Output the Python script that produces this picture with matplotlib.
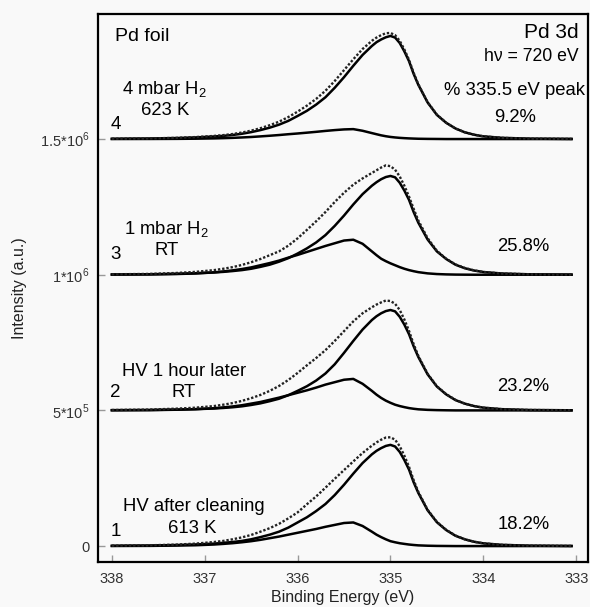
import matplotlib
matplotlib.use("Agg")
import matplotlib.pyplot as plt
import numpy as np

plt.rcParams['font.family'] = ['Liberation Sans', 'DejaVu Sans']
plt.rcParams['mathtext.fontset'] = 'custom'
plt.rcParams['mathtext.rm'] = 'Liberation Sans'

# binding energy grid (eV)
be = [338.0, 337.6, 337.3, 337.1, 336.9, 336.8, 336.7, 336.6, 336.5, 336.4, 336.3, 336.2, 336.1, 336.0,
      335.9, 335.8, 335.7, 335.6, 335.5, 335.4, 335.3, 335.2, 335.15, 335.1, 335.05, 335.0, 334.95, 334.9,
      334.85, 334.8, 334.75, 334.7, 334.6, 334.5, 334.4, 334.3, 334.2, 334.1, 334.0, 333.8, 333.5, 333.05]

# intensities in units of 1e3 counts, above each spectrum's baseline
# 1: HV after cleaning 613 K
main1 = [1, 2, 4, 6, 9, 12, 15, 19, 25, 33, 42, 53, 68, 87,
         106, 129, 155, 188, 226, 267, 306, 338, 351, 361, 369, 373, 367, 347,
         317, 282, 235, 196, 132, 88, 59, 38, 25, 16, 10, 4.5, 1.5, 0.4]
small1 = [0.3, 0.7, 1.8, 3, 5.7, 8, 10.6, 14, 18, 23, 29, 35, 42, 49,
          56, 63, 71, 78, 85, 87, 74, 53, 42, 33, 25, 18, 14, 10.5,
          8, 5.7, 4, 2.6, 1.3, 0.6, 0.3, 0, 0, 0, 0, 0, 0, 0]
data1 = [1.5, 2.8, 5.5, 9, 15, 19, 25, 32, 41, 53, 66, 82, 102, 124,
         154, 183, 215, 248, 280, 312, 343, 370, 382, 392, 400, 401, 392, 368,
         333, 292, 243, 200, 134, 89, 60, 39, 25, 16, 10, 4.5, 1.5, 0.5]
# 2: HV 1 hour later RT
main2 = [1, 1.5, 3, 4.5, 7, 9, 11.5, 15, 20, 26, 34, 43, 56, 72,
         89, 110, 136, 170, 212, 256, 298, 333, 347, 358, 366, 370, 365, 345,
         316, 281, 236, 197, 133, 88, 59, 38, 25, 16, 10, 4.5, 1.5, 0.4]
small2 = [0.4, 1, 2.5, 4.5, 8, 11, 14.5, 19, 25, 31, 39, 47, 56, 65,
          74, 84, 95, 104, 113, 116, 98, 72, 58, 46, 36, 28, 21, 16,
          12, 8.5, 6, 4, 2, 1, 0.4, 0, 0, 0, 0, 0, 0, 0]
data2 = [1.5, 3, 6.5, 10, 16, 21, 27, 35, 45, 57, 72, 90, 112, 138,
         166, 193, 222, 256, 292, 328, 358, 380, 390, 398, 405, 403, 393, 370,
         335, 293, 244, 201, 135, 89, 60, 39, 25, 16, 10, 4.5, 1.5, 0.5]
# 3: 1 mbar H2 RT
main3 = [1, 1.8, 3.5, 5.5, 8.5, 10.5, 13.5, 17, 22, 29, 37, 48, 61, 78,
         97, 119, 146, 180, 218, 259, 297, 328, 341, 352, 360, 364, 359, 339,
         310, 276, 231, 192, 130, 86, 58, 37, 24, 15.5, 10, 4.5, 1.5, 0.4]
small3 = [0.4, 1, 2.6, 4.6, 8.5, 12, 16, 21, 27, 35, 43, 52, 63, 73,
          84, 95, 106, 116, 126, 129, 114, 86, 72, 59, 50, 42, 35, 28,
          22, 17, 13, 9.5, 5, 2.5, 1.2, 0.5, 0.2, 0, 0, 0, 0, 0]
data3 = [1.5, 3, 6.5, 10.5, 17, 22, 28, 36, 46, 58, 72, 86, 107, 134,
         165, 197, 231, 268, 302, 332, 355, 375, 385, 395, 403, 400, 387, 362,
         328, 288, 243, 200, 135, 88, 59, 38, 25, 16, 10, 4.5, 1.5, 0.5]
# 4: 4 mbar H2 623 K
main4 = [1, 2, 3.8, 6, 9.5, 11.8, 15, 19.5, 25.5, 33, 42, 53, 67, 85,
         104, 127, 154, 189, 228, 270, 310, 343, 357, 367, 375, 380, 374, 354,
         323, 287, 240, 200, 135, 89, 60, 39, 25, 16, 10, 4.5, 1.5, 0.4]
small4 = [0.1, 0.3, 0.7, 1.3, 2.4, 3.3, 4.4, 5.9, 7.6, 9.8, 12.2, 14.8, 17.8, 20.5,
          23.5, 26.6, 30, 33, 35.5, 36.6, 30.5, 22, 17.8, 13.7, 10.4, 7.8, 5.9, 4.4,
          3.3, 2.4, 1.7, 1.1, 0.6, 0.3, 0, 0, 0, 0, 0, 0, 0, 0]
data4 = [1.2, 2.3, 4.5, 7.3, 11.5, 14.5, 18.5, 24, 31, 40, 51, 64, 81, 101,
         123, 148, 178, 214, 254, 294, 332, 362, 374, 383, 390, 391, 383, 362,
         330, 292, 244, 202, 136, 90, 60, 39, 25, 16, 10, 4.5, 1.5, 0.5]

offsets = [0, 5e5, 1e6, 1.5e6]
mains = [main1, main2, main3, main4]
smalls = [small1, small2, small3, small4]
datas = [data1, data2, data3, data4]

numbers = ['1', '2', '3', '4']
cond_top = ['HV after cleaning', 'HV 1 hour later', r'1 mbar H$_\mathregular{2}$', r'4 mbar H$_\mathregular{2}$']
cond_bot = ['613 K', 'RT', 'RT', '623 K']
percents = ['18.2%', '23.2%', '25.8%', '9.2%']

yticks = [0, 5e5, 1e6, 1.5e6]
yticklabels = ['0', r'5*10$^\mathregular{5}$', r'1*10$^\mathregular{6}$', r'1.5*10$^\mathregular{6}$']
xticks = [338, 337, 336, 335, 334, 333]

fig = plt.figure(figsize=(5.9, 6.07), dpi=100, facecolor='#f9f9f9')
ax = fig.add_axes([0.166, 0.074, 0.831, 0.903])
ax.set_facecolor('#f9f9f9')

x = np.array(be)
for off, m, s, d in zip(offsets, mains, smalls, datas):
    ax.plot(x, np.array(s) * 1e3 + off, color='black', lw=1.8, solid_joinstyle='round')
    ax.plot(x, np.array(m) * 1e3 + off, color='black', lw=1.8, solid_joinstyle='round')
    ax.plot(x, np.array(d) * 1e3 + off, color='#222222', lw=1.7, linestyle=(0, (1, 0.8)))

ax.set_xlim(338.15, 332.87)
ax.set_ylim(-59000, 1961000)
ax.set_xticks(xticks)
ax.set_xticklabels([str(t) for t in xticks])
ax.set_yticks(yticks)
ax.set_yticklabels(yticklabels)
ax.tick_params(direction='in', length=5, width=1, color='#999999',
               labelsize=10.5, labelcolor='#333333')
ax.tick_params(axis='y', pad=6)
ax.tick_params(axis='x', pad=7)
for sp in ax.spines.values():
    sp.set_linewidth(1.6)

ax.set_xlabel('Binding Energy (eV)', fontsize=11.5, color='#222222', labelpad=3)
ax.set_ylabel('Intensity (a.u.)', fontsize=11.5, color='#222222', labelpad=9)

# per-spectrum labels
num_y = [52000, 565000, 1074000, 1553000]
top_xy = [(337.12, 144000), (337.22, 642000), (337.41, 1170000), (337.43, 1686000)]
bot_xy = [(337.13, 66000), (337.23, 565000), (337.41, 1089000), (337.43, 1605000)]
pct_xy = [(333.57, 81000), (333.57, 587000), (333.57, 1103000), (333.66, 1579000)]
for i in range(4):
    ax.text(337.96, num_y[i], numbers[i], fontsize=13.5, ha='center', va='center')
    ax.text(*top_xy[i], cond_top[i], fontsize=13.3, ha='center', va='center')
    ax.text(*bot_xy[i], cond_bot[i], fontsize=13.3, ha='center', va='center')
    ax.text(*pct_xy[i], percents[i], fontsize=13.3, ha='center', va='center')

ax.text(337.97, 1878000, 'Pd foil', fontsize=14, ha='left', va='center')
ax.text(332.97, 1893000, 'Pd 3d', fontsize=15, ha='right', va='center')
ax.text(332.97, 1804000, 'h\u03bd = 720 eV', fontsize=12.7, ha='right', va='center')
ax.text(332.90, 1679000, '% 335.5 eV peak', fontsize=13.3, ha='right', va='center')

fig.savefig('out.png', dpi=100, facecolor=fig.get_facecolor())
